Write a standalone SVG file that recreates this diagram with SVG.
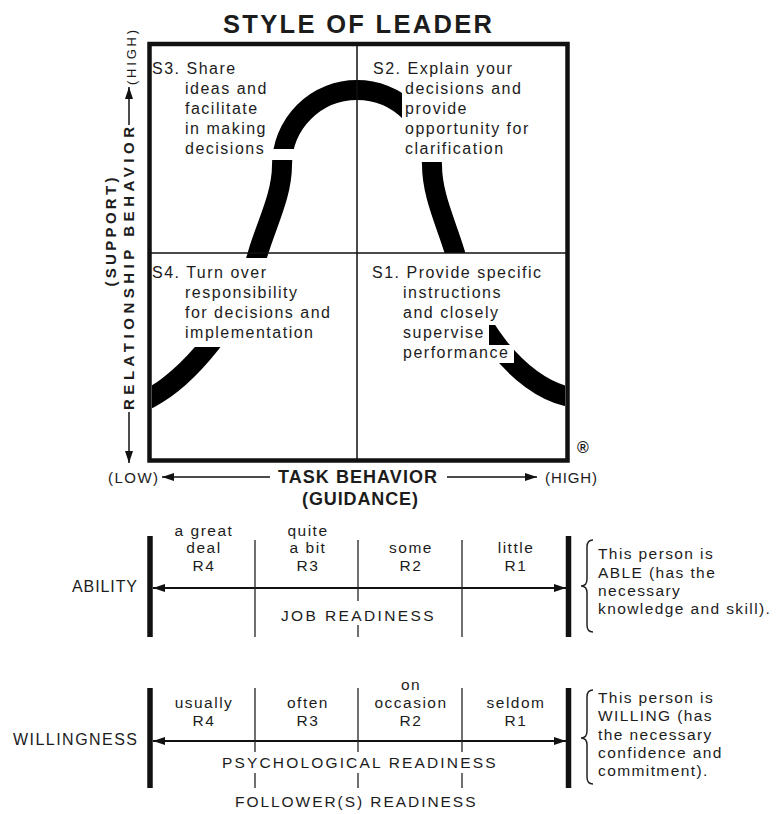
<svg xmlns="http://www.w3.org/2000/svg" width="777" height="814" viewBox="0 0 777 814">
<defs>
<style>
text{font-family:"Liberation Sans",Arial,sans-serif;fill:#1c1c1c}
.q{font-size:16px;letter-spacing:1.5px}
.s{font-size:15.5px;letter-spacing:1.5px;text-anchor:middle}
.r{font-size:15.5px;letter-spacing:1.4px}
.cap{font-size:15.5px;letter-spacing:1.5px;text-anchor:middle}
.b{font-weight:bold}
.thin{stroke:#111;stroke-width:1.5;fill:none}
.axis{stroke:#111;stroke-width:1.5;fill:none;marker-end:url(#ah)}
.bar{stroke:#111;stroke-width:5.5}
.scale{stroke:#111;stroke-width:1.8;marker-start:url(#ah);marker-end:url(#ah)}
.div{stroke:#222;stroke-width:1.3}
.mask{fill:#fff}
.brace{stroke:#222;stroke-width:1.5;fill:none}
</style>
<marker id="ah" viewBox="0 0 12 8" refX="12" refY="4" markerWidth="12" markerHeight="8" markerUnits="userSpaceOnUse" orient="auto-start-reverse">
<path d="M0,0 L12,4 L0,8 z" fill="#111"/>
</marker>
<clipPath id="box"><rect x="152" y="46" width="413" height="412"/></clipPath>
</defs>
<rect width="777" height="814" fill="#fff"/>

<g id="title">
<text x="357.5" y="33" text-anchor="middle" font-size="25.5" class="b" textLength="269" lengthAdjust="spacing">STYLE OF LEADER</text>
</g>

<g id="curve" clip-path="url(#box)">
<path d="M140,403.1 L150,398 C185,380 240,320 258,253 C267,223 282,195 282,165 A75,75 0 0 1 432,165 C432,195 446,223 455,253 C470,325 520,385 566,396 L576,398.4" fill="none" stroke="#000" stroke-width="20"/>
<rect class="mask" x="262" y="149" width="44" height="11"/>
<rect class="mask" x="170" y="258" width="130" height="89"/>
<rect class="mask" x="402" y="60" width="80" height="102"/>
<rect class="mask" x="420" y="253" width="130" height="72"/>
<rect class="mask" x="420" y="325" width="69" height="20"/>
<rect class="mask" x="420" y="345" width="94" height="18"/>
</g>

<g id="grid">
<line x1="357" y1="44" x2="357" y2="460" class="thin"/>
<line x1="149.5" y1="253" x2="567.5" y2="253" class="thin"/>
<rect x="149.5" y="44" width="418" height="416.5" fill="none" stroke="#111" stroke-width="4.5"/>
</g>

<g id="S3" class="q">
<text x="152" y="74">S3. Share</text>
<text x="185" y="94">ideas and</text>
<text x="185" y="114">facilitate</text>
<text x="185" y="134">in making</text>
<text x="185" y="154">decisions</text>
</g>
<g id="S2" class="q">
<text x="373" y="74">S2. Explain your</text>
<text x="405" y="94">decisions and</text>
<text x="405" y="114">provide</text>
<text x="405" y="134">opportunity for</text>
<text x="405" y="154">clarification</text>
</g>
<g id="S4" class="q">
<text x="152" y="278">S4. Turn over</text>
<text x="185" y="298">responsibility</text>
<text x="185" y="318">for decisions and</text>
<text x="185" y="338">implementation</text>
</g>
<g id="S1" class="q">
<text x="372" y="278">S1. Provide specific</text>
<text x="403" y="298">instructions</text>
<text x="403" y="318">and closely</text>
<text x="403" y="338">supervise</text>
<text x="403" y="358">performance</text>
</g>

<g id="y-axis">
<text transform="translate(115.5,232) rotate(-90)" text-anchor="middle" font-size="15" class="b" textLength="109" lengthAdjust="spacing">(SUPPORT)</text>
<text transform="translate(133.5,268.5) rotate(-90)" text-anchor="middle" font-size="15" class="b" textLength="283" lengthAdjust="spacing">RELATIONSHIP BEHAVIOR</text>
<text transform="translate(135.5,57.5) rotate(-90)" text-anchor="middle" font-size="13" textLength="55" lengthAdjust="spacing">(HIGH)</text>
</g>

<g id="x-axis">
<text x="108" y="483" font-size="15" textLength="50" lengthAdjust="spacing">(LOW)</text>
<text x="357.5" y="483" text-anchor="middle" font-size="18" class="b" textLength="159" lengthAdjust="spacing">TASK BEHAVIOR</text>
<text x="545" y="483" font-size="15" textLength="52" lengthAdjust="spacing">(HIGH)</text>
<text x="360" y="505" text-anchor="middle" font-size="18" class="b" textLength="116" lengthAdjust="spacing">(GUIDANCE)</text>
<text x="583" y="452.5" text-anchor="middle" font-size="16" class="b">®</text>
</g>

<g id="connectors">
<line class="axis" x1="129" y1="125" x2="129" y2="87"/>
<line class="axis" x1="129" y1="412" x2="129" y2="463"/>
<line class="axis" x1="270" y1="477" x2="162" y2="477"/>
<line class="axis" x1="447" y1="477" x2="537" y2="477"/>
<line class="scale" x1="153" y1="588" x2="566" y2="588"/>
<line class="scale" x1="153" y1="741" x2="566" y2="741"/>
</g>

<g id="ability-scale">
<line class="bar" x1="150" y1="536" x2="150" y2="637"/>
<line class="bar" x1="568.5" y1="536" x2="568.5" y2="637"/>
<line class="div" x1="255" y1="540" x2="255" y2="637"/>
<line class="div" x1="358" y1="540" x2="358" y2="601"/>
<line class="div" x1="358" y1="625" x2="358" y2="637"/>
<line class="div" x1="462" y1="540" x2="462" y2="637"/>
<text x="137" y="592" text-anchor="end" font-size="16" textLength="65" lengthAdjust="spacing">ABILITY</text>
<text class="s" x="204" y="536">a great</text>
<text class="s" x="204" y="553">deal</text>
<text class="s" x="204" y="571">R4</text>
<text class="s" x="308" y="536">quite</text>
<text class="s" x="308" y="553">a bit</text>
<text class="s" x="308" y="571">R3</text>
<text class="s" x="411" y="553">some</text>
<text class="s" x="411" y="571">R2</text>
<text class="s" x="516" y="553">little</text>
<text class="s" x="516" y="571">R1</text>
<text class="cap" x="358" y="621" textLength="154" lengthAdjust="spacing">JOB READINESS</text>
<path class="brace" d="M593,540 Q587,540 587,547 L587,579 Q587,586 581,586 Q587,586 587,593 L587,625 Q587,632 593,632"/>
<text class="r" x="598" y="559">This person is</text>
<text class="r" x="598" y="578">ABLE (has the</text>
<text class="r" x="598" y="596">necessary</text>
<text class="r" x="598" y="614">knowledge and skill).</text>
</g>

<g id="willingness-scale">
<line class="bar" x1="150" y1="688" x2="150" y2="788"/>
<line class="bar" x1="568.5" y1="688" x2="568.5" y2="788"/>
<line class="div" x1="255" y1="688" x2="255" y2="752"/>
<line class="div" x1="255" y1="773" x2="255" y2="788"/>
<line class="div" x1="358" y1="688" x2="358" y2="752"/>
<line class="div" x1="358" y1="773" x2="358" y2="788"/>
<line class="div" x1="462" y1="688" x2="462" y2="752"/>
<line class="div" x1="462" y1="773" x2="462" y2="788"/>
<text x="137" y="745" text-anchor="end" font-size="16" textLength="124" lengthAdjust="spacing">WILLINGNESS</text>
<text class="s" x="204" y="708">usually</text>
<text class="s" x="204" y="726">R4</text>
<text class="s" x="308" y="708">often</text>
<text class="s" x="308" y="726">R3</text>
<text class="s" x="411" y="690">on</text>
<text class="s" x="411" y="708">occasion</text>
<text class="s" x="411" y="726">R2</text>
<text class="s" x="516" y="708">seldom</text>
<text class="s" x="516" y="726">R1</text>
<text class="cap" x="359.5" y="768" textLength="275" lengthAdjust="spacing">PSYCHOLOGICAL READINESS</text>
<text class="cap" x="356" y="807" textLength="242" lengthAdjust="spacing">FOLLOWER(S) READINESS</text>
<path class="brace" d="M593,690 Q587,690 587,697 L587,731 Q587,738 581,738 Q587,738 587,745 L587,777 Q587,784 593,784"/>
<text class="r" x="598" y="703">This person is</text>
<text class="r" x="598" y="721">WILLING (has</text>
<text class="r" x="598" y="740">the necessary</text>
<text class="r" x="598" y="758">confidence and</text>
<text class="r" x="598" y="776">commitment).</text>
</g>
</svg>
